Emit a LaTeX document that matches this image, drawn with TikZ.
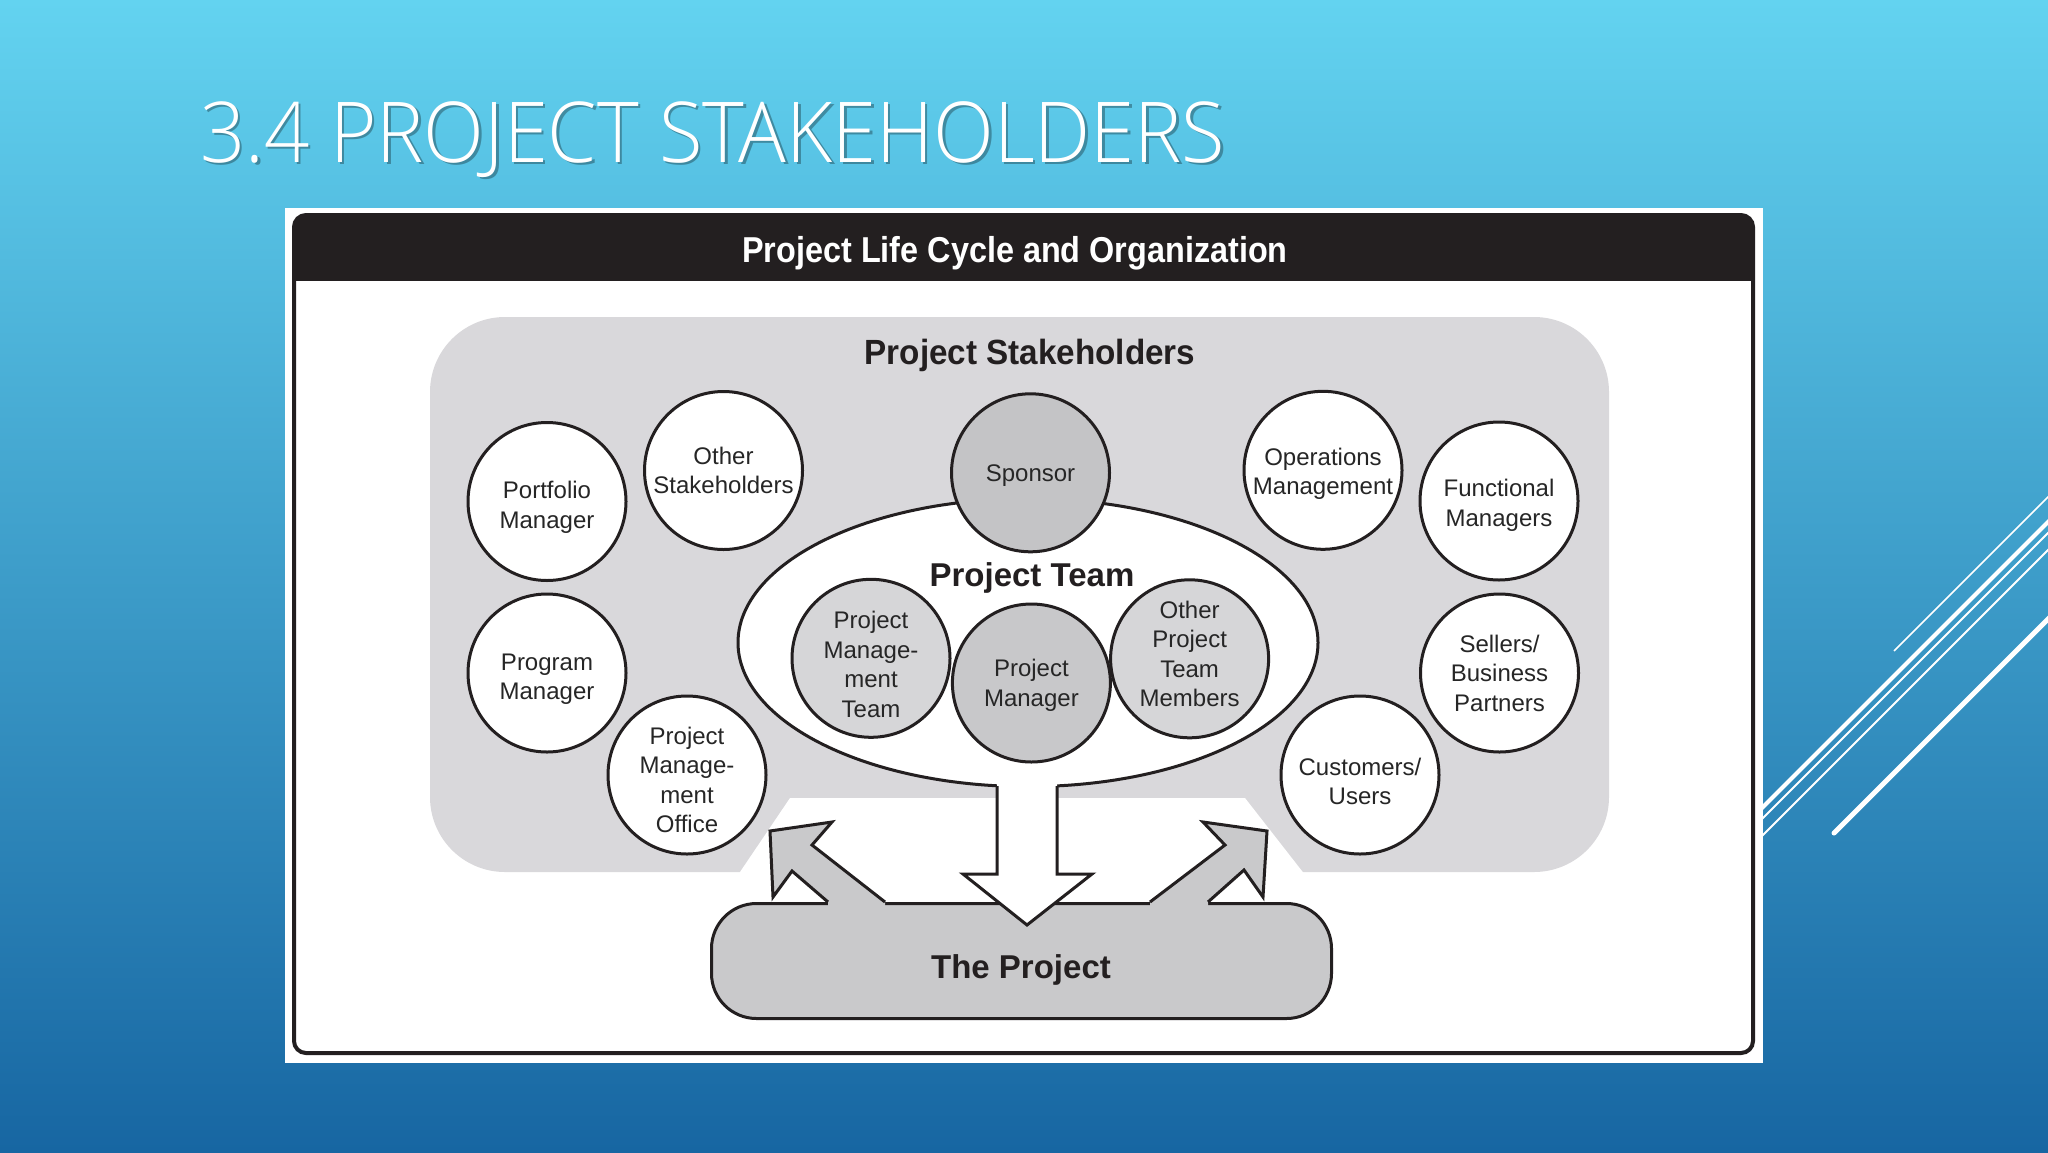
\documentclass[tikz,border=0pt]{standalone}
\usepackage{fontspec}
\setmainfont{Liberation Sans}
\IfFontExistsTF{Open Sans Light}{\newfontfamily\titlefont{Open Sans Light}}{\newfontfamily\titlefont{Open Sans}}
\usetikzlibrary{shapes.geometric}
\definecolor{bgtop}{HTML}{63D3F0}
\definecolor{bgbot}{HTML}{1766A2}
\definecolor{hdr}{HTML}{231F20}
\definecolor{stk}{HTML}{D9D8DB}
\definecolor{spgray}{HTML}{C4C4C6}
\definecolor{ltgray}{HTML}{D6D6D8}
\definecolor{pmgray}{HTML}{C8C8CA}
\definecolor{pgray}{HTML}{C9C9CB}
\definecolor{txt}{HTML}{262626}
\begin{document}
\begin{tikzpicture}[x=1pt,y=-1pt,
  circ/.style={circle, draw=hdr, fill=white, line width=3pt, minimum size=158pt, inner sep=0pt},
  ctext/.style={align=center, text=txt, inner sep=0pt, font=\fontsize{24}{29.5}\selectfont},
  boldlbl/.style={text=hdr, anchor=base, inner sep=0pt, font=\bfseries\fontsize{33}{38}\selectfont},
  outl/.style={draw=hdr, line width=3pt, line join=miter}
]
\useasboundingbox (0,0) rectangle (2048,1152);
% background
\shade[top color=bgtop, bottom color=bgbot] (0,0) rectangle (2048,1152);
% decorative lines
\begin{scope}
\clip (0,0) rectangle (2048,1152);
\draw[white, line width=1.5pt] (1894,651) -- (2100,445);
\draw[white, line width=4pt] (1700,870) -- (2100,470);
\draw[white, line width=2pt] (1700,881) -- (2100,481);
\draw[white, line width=2pt] (1700,898) -- (2100,498);
\draw[white, line width=5pt, line cap=round] (1834,833) -- (2100,567);
\end{scope}
% slide title
\node[anchor=base west, inner sep=0pt, text=black, opacity=0.3, font=\titlefont\fontsize{84}{90}\selectfont] (titleshadow) at (202.5,164.5) {\scalebox{0.945}[1]{3.4 PROJECT STAKEHOLDERS}};
\node[anchor=base west, inner sep=0pt, text=white, font=\titlefont\fontsize{84}{90}\selectfont] (title) at (200,162) {\scalebox{0.945}[1]{3.4 PROJECT STAKEHOLDERS}};
% picture frame
\fill[white] (285,208) rectangle (1763,1063);
\begin{scope}
\clip[rounded corners=12] (294,215) rectangle (1753,1053);
\fill[hdr] (294,215) rectangle (1753,281);
\end{scope}
\draw[hdr, line width=4pt, rounded corners=12] (294,215) rectangle (1753,1053);
\node[anchor=base, inner sep=0pt, text=white, font=\bfseries\fontsize{36}{40}\selectfont] (hdrtext) at (1015,262.5) {\scalebox{0.9}[1]{Project Life Cycle and Organization}};
% stakeholder area
\fill[stk, rounded corners=75] (430,317) rectangle (1609,872);
\fill[white] (734.6,880) -- (790,798) -- (1245,798) -- (1309,880) -- cycle;
\node[boldlbl, font=\bfseries\fontsize{35}{40}\selectfont] (stklabel) at (1030,364) {\scalebox{0.95}[1]{Project Stakeholders}};
% project team ellipse
\node[ellipse, draw=hdr, fill=white, line width=3pt, minimum width=580pt, minimum height=288pt, inner sep=0pt] (team) at (1028,642.6) {};
% stakeholder circles
\node[circ, label={[ctext, yshift=-6pt]center:{Portfolio\\Manager}}] (portfolio) at (547,501.5) {};
\node[circ, label={[ctext, yshift=0pt]center:{Other\\Stakeholders}}] (otherstk) at (723.5,470.5) {};
\node[circ, fill=spgray, label={[ctext, yshift=-2.5pt]center:{Sponsor}}] (sponsor) at (1030.5,472.8) {};
\node[circ, label={[ctext, yshift=-3.5pt]center:{Operations\\Management}}] (ops) at (1323,470.3) {};
\node[circ, label={[ctext, yshift=-4.5pt]center:{Functional\\Managers}}] (functional) at (1499,501) {};
\node[circ, label={[ctext, yshift=-6pt]center:{Program\\Manager}}] (program) at (547,673) {};
\node[circ, label={[ctext, yshift=-5pt]center:{Project\\Manage-\\ment\\Office}}] (pmo) at (687,775) {};
\node[circ, label={[ctext, yshift=0pt]center:{Sellers/\\Business\\Partners}}] (sellers) at (1499.5,673) {};
\node[circ, label={[ctext, yshift=-6.5pt]center:{Customers/\\Users}}] (customers) at (1360,775) {};
% team members
\node[boldlbl] (teamlabel) at (1032,586.7) {Project Team};
\node[circ, fill=ltgray, label={[ctext, yshift=-6pt]center:{Project\\Manage-\\ment\\Team}}] (pmt) at (871,658.3) {};
\node[circ, fill=pmgray, label={[ctext, yshift=-2.5pt]center:{Project\\Manager}}] (pm) at (1031.4,683) {};
\node[circ, fill=ltgray, label={[ctext, yshift=5pt]center:{Other\\Project\\Team\\Members}}] (optm) at (1189.6,658.8) {};
% the project
\node[draw=hdr, fill=pgray, line width=3pt, rounded corners=45, minimum width=620pt, minimum height=115pt, inner sep=0pt] (proj) at (1021.5,961) {};
% up arrows
\fill[pgray] (828,902) -- (792,871) -- (773,897) -- (770,831) -- (832,822) -- (812,845) -- (885,902) -- (885,906) -- (828,906) -- cycle;
\draw[outl] (828,902) -- (792,871) -- (773,897) -- (770,831) -- (832,822) -- (812,845) -- (885,902);
\fill[pgray] (1150,902) -- (1225,845) -- (1203,822) -- (1267,831) -- (1263,897) -- (1244,870) -- (1208,902) -- (1208,906) -- (1150,906) -- cycle;
\draw[outl] (1150,902) -- (1225,845) -- (1203,822) -- (1267,831) -- (1263,897) -- (1244,870) -- (1208,902);
% down arrow
\fill[white] (997,770) -- (997,874) -- (963,874) -- (1027,925) -- (1092,874) -- (1057,874) -- (1057,770) -- cycle;
\draw[outl] (997,786) -- (997,874) -- (963,874) -- (1027,925) -- (1092,874) -- (1057,874) -- (1057,786);
\node[boldlbl] (projlabel) at (1021,978.3) {The Project};
\end{tikzpicture}
\end{document}
